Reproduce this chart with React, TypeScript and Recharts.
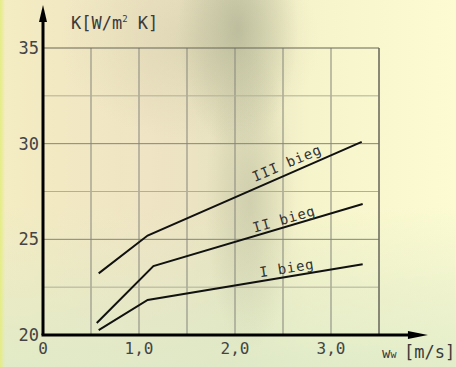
import React from 'react';
import { LineChart, Line, XAxis, YAxis, CartesianGrid, ReferenceLine, ReferenceDot } from 'recharts';

const gearNames = ['I bieg', 'II bieg', 'III bieg'];
const gear1 = [
  { x: 0.58, y: 20.26 },
  { x: 1.09, y: 21.83 },
  { x: 3.33, y: 23.7 },
];
const gear2 = [
  { x: 0.56, y: 20.63 },
  { x: 1.15, y: 23.6 },
  { x: 3.33, y: 26.85 },
];
const gear3 = [
  { x: 0.58, y: 23.22 },
  { x: 1.09, y: 25.2 },
  { x: 3.32, y: 30.09 },
];
const xTicks = [0, 0.5, 1, 1.5, 2, 2.5, 3, 3.5];
const yTicks = [20, 22.5, 25, 27.5, 30, 32.5, 35];
const xLabels: Record<string, string> = { '0': '0', '1': '1,0', '2': '2,0', '3': '3,0' };
const yLabels: Record<string, string> = { '20': '20', '25': '25', '30': '30', '35': '35' };

const FONT = '"DejaVu Sans Mono", monospace';

const ArrowUp = (p: any) => {
  const { x1, y1, x2, y2 } = p;
  return (
    <g>
      <line x1={x1} y1={y1} x2={x2} y2={y2 + 10} stroke="#000" strokeWidth={3} />
      <polygon points={`${x2},${y2} ${x2 - 4},${y2 + 17} ${x2 + 4},${y2 + 17}`} fill="#000" />
    </g>
  );
};
const ArrowRight = (p: any) => {
  const { x1, y1, x2, y2 } = p;
  return (
    <g>
      <line x1={x1 - 1.5} y1={y1} x2={x2 - 10} y2={y2} stroke="#000" strokeWidth={3} />
      <polygon points={`${x2},${y2} ${x2 - 20},${y2 - 4} ${x2 - 20},${y2 + 4}`} fill="#000" />
    </g>
  );
};

const RotLabel = (text: string, angle: number) => (props: any) => {
  const { cx, cy } = props;
  return (
    <text
      x={cx}
      y={cy}
      transform={`rotate(${angle} ${cx} ${cy})`}
      textAnchor="middle"
      dominantBaseline="central"
      fontFamily={FONT}
      fontSize={14}
      letterSpacing={0.8}
      fill="#333"
    >
      {text}
    </text>
  );
};

export default function App() {
  const bg = [
    'linear-gradient(to right, #e4ec84 0px, rgba(240,240,170,0) 5px)',
    'radial-gradient(ellipse 60px 120px at 238px 30px, rgba(160,165,135,0.55), rgba(160,165,135,0) 100%)',
    'radial-gradient(ellipse 45px 150px at 250px 200px, rgba(170,175,145,0.42), rgba(170,175,145,0) 100%)',
    'radial-gradient(ellipse 130px 100px at 190px 40px, rgba(205,200,165,0.45), rgba(205,200,165,0) 100%)',
    'linear-gradient(to top, rgba(222,234,200,0.85) 0px, rgba(225,235,205,0) 160px)',
    'linear-gradient(to right, #f4ecc2 0px, #efe4c4 150px, #e8e3c0 230px, #f6f4cb 310px, #fcfbd2 456px)',
  ].join(',');
  return (
    <div style={{ position: 'absolute', left: 0, top: 0, width: 456, height: 367, background: bg, overflow: 'hidden' }}>
      <LineChart width={456} height={367} margin={{ top: 48, right: 77, bottom: 0, left: 0 }}>
        <CartesianGrid stroke="#85857a" strokeWidth={1} horizontal={false} />
        <XAxis
          type="number"
          dataKey="x"
          domain={[0, 3.5]}
          ticks={xTicks}
          axisLine={false}
          tickLine={false}
          tickSize={0}
          tickMargin={8}
          height={32}
          interval={0}
          allowDataOverflow
          tickFormatter={(v: number) => xLabels[String(v)] ?? ''}
          tick={{ fontFamily: FONT, fontSize: 16, fill: '#444' }}
        />
        <YAxis
          type="number"
          dataKey="y"
          domain={[20, 35]}
          ticks={yTicks}
          axisLine={false}
          tickLine={false}
          tickSize={0}
          tickMargin={4}
          width={43}
          interval={0}
          allowDataOverflow
          tickFormatter={(v: number) => yLabels[String(v)] ?? ''}
          tick={{ fontFamily: FONT, fontSize: 17, fill: '#444' }}
        />
        <ReferenceLine y={22.5} stroke="#b0af98" strokeWidth={1} />
        <ReferenceLine y={25} stroke="#85857a" strokeWidth={1} />
        <ReferenceLine y={27.5} stroke="#b0af98" strokeWidth={1} />
        <ReferenceLine y={30} stroke="#85857a" strokeWidth={1} />
        <ReferenceLine y={32.5} stroke="#b0af98" strokeWidth={1} />
        <ReferenceLine y={35} stroke="#666658" strokeWidth={1.2} />
        <ReferenceLine x={3.5} stroke="#666658" strokeWidth={1.2} />
        <Line data={gear1} dataKey="y" type="linear" stroke="#111" strokeWidth={2} dot={false} isAnimationActive={false} name={gearNames[0]} />
        <Line data={gear2} dataKey="y" type="linear" stroke="#111" strokeWidth={2} dot={false} isAnimationActive={false} name={gearNames[1]} />
        <Line data={gear3} dataKey="y" type="linear" stroke="#111" strokeWidth={2} dot={false} isAnimationActive={false} name={gearNames[2]} />
        <ReferenceDot x={2.54} y={28.99} r={0} ifOverflow="visible" shape={RotLabel(gearNames[2], -23)} />
        <ReferenceDot x={2.51} y={26.06} r={0} ifOverflow="visible" shape={RotLabel(gearNames[1], -16)} />
        <ReferenceDot x={2.54} y={23.5} r={0} ifOverflow="visible" shape={RotLabel(gearNames[0], -9)} />
        <ReferenceLine segment={[{ x: 0, y: 20 }, { x: 0, y: 37.25 }]} ifOverflow="visible" shape={ArrowUp} />
        <ReferenceLine segment={[{ x: 0, y: 20 }, { x: 4.01, y: 20 }]} ifOverflow="visible" shape={ArrowRight} />
      </LineChart>
      <div style={{ position: 'absolute', left: 71, top: 13, fontFamily: FONT, fontSize: 17, color: '#3a3a3a', whiteSpace: 'nowrap' }}>
        K[W/m<sup style={{ fontSize: 9 }}>2</sup> K]
      </div>
      <div style={{ position: 'absolute', left: 382, top: 345, fontFamily: FONT, fontSize: 14, color: '#3a3a3a', whiteSpace: 'nowrap', lineHeight: '16px' }}>
        w<span style={{ fontSize: 10 }}>w</span>
      </div>
      <div style={{ position: 'absolute', left: 404, top: 342, fontFamily: FONT, fontSize: 17, color: '#3a3a3a', whiteSpace: 'nowrap', lineHeight: '20px' }}>
        [m/s]
      </div>
    </div>
  );
}
